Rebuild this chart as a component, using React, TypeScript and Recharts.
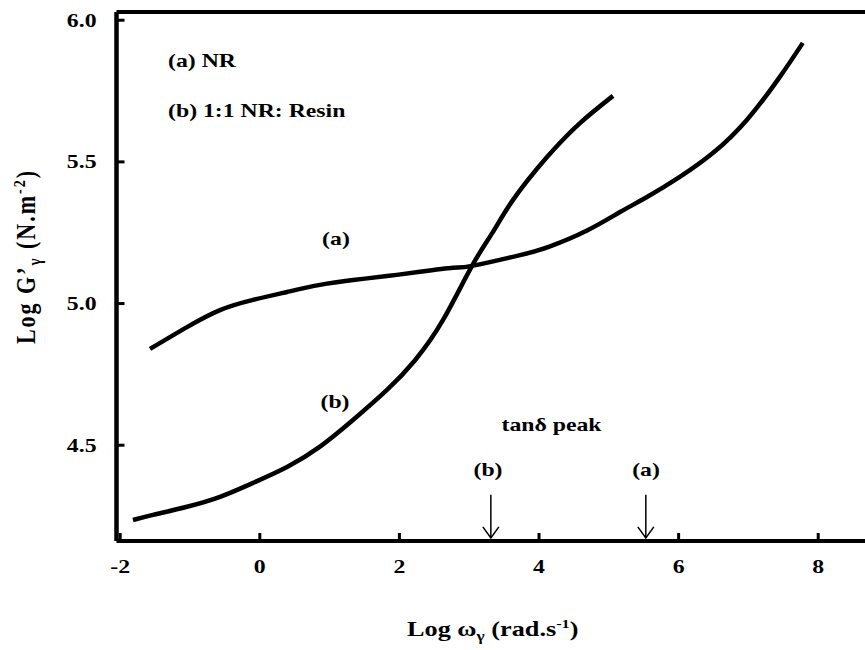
import React from 'react';
import { LineChart, Line, XAxis, YAxis, ReferenceLine, ReferenceDot, Label } from 'recharts';

// Curve (a) NR
const logOmegaA = [-1.573, -1.043, -0.570, -0.097, 0.390, 0.862, 1.335, 1.822, 2.295, 2.768, 3.040, 3.728, 4.158, 4.688, 5.160, 5.547, 6.017, 6.490, 6.977, 7.450, 7.779];
const logGA = [4.840, 4.917, 4.977, 5.013, 5.041, 5.066, 5.083, 5.097, 5.112, 5.126, 5.133, 5.171, 5.202, 5.258, 5.323, 5.376, 5.447, 5.531, 5.648, 5.800, 5.920];

// Curve (b) 1:1 NR: Resin
const logOmegaB = [-1.817, -1.530, -1.043, -0.570, -0.097, 0.390, 0.862, 1.335, 1.822, 2.224, 2.625, 3.040, 3.341, 3.628, 4.115, 4.587, 5.060];
const logGB = [4.236, 4.254, 4.283, 4.318, 4.367, 4.423, 4.495, 4.589, 4.695, 4.800, 4.942, 5.133, 5.253, 5.366, 5.517, 5.637, 5.733];

const xTicks = [-2, 0, 2, 4, 6, 8];
const yTicks = [4.5, 5.0, 5.5, 6.0];
const xDomain = [-2.053, 8.67];
const yDomain = [4.162, 6.029];

// tan delta peak arrows: (b), (a)
const peakX = [3.31, 5.53];
const arrowTopY = 4.325;
const arrowTipY = 4.173;

const noteText = ['(a) NR', '(b) 1:1 NR: Resin', '(a)', '(b)', 'tanδ peak', '(b)', '(a)'];
const noteX = [-1.315, -1.315, 1.091, 1.077, 4.179, 3.269, 5.533];
const noteY = [5.835, 5.658, 5.205, 4.632, 4.550, 4.392, 4.392];
const noteAnchor = ['start', 'start', 'middle', 'middle', 'middle', 'middle', 'middle'];

const dataA = logOmegaA.map((x, i) => ({ x, y: logGA[i] }));
const dataB = logOmegaB.map((x, i) => ({ x, y: logGB[i] }));

const FONT = '"Liberation Serif", "Times New Roman", serif';
const SX = 1.25;

function SText(props: any) {
  const { x, y, anchor = 'middle', size = 19, rotate = false, letterSpacing, children } = props;
  const t = rotate
    ? `translate(${x},${y}) scale(${SX},1) rotate(-90)`
    : `translate(${x},${y}) scale(${SX},1)`;
  return (
    <text
      transform={t}
      x={0}
      y={0}
      textAnchor={anchor}
      fontFamily={FONT}
      fontWeight="bold"
      fontSize={size}
      fill="#000"
      letterSpacing={letterSpacing}
    >
      {children}
    </text>
  );
}

const XTick = (props: any) => {
  const { x, y, payload } = props;
  return (
    <g>
      <line x1={x} x2={x} y1={y} y2={y - 8} stroke="#000" strokeWidth={3} />
      <SText x={x} y={y + 32}>{String(payload.value)}</SText>
    </g>
  );
};

const YTick = (props: any) => {
  const { x, y, payload } = props;
  return (
    <g>
      <line x1={x} x2={x + 8} y1={y} y2={y} stroke="#000" strokeWidth={3} />
      <SText x={x - 20} y={y + 6.5} anchor="end">{Number(payload.value).toFixed(1)}</SText>
    </g>
  );
};

const XTitle = (props: any) => {
  const vb = props.viewBox || { x: 116, y: 541, width: 749 };
  return (
    <SText x={vb.x + vb.width / 2 + 2} y={vb.y + 95} size={21}>
      {'Log ω'}
      <tspan fontSize={14} dy={5}>γ</tspan>
      <tspan dy={-5}>{' (rad.s'}</tspan>
      <tspan fontSize={13} dy={-8}>-1</tspan>
      <tspan dy={8}>)</tspan>
    </SText>
  );
};

const YTitle = (props: any) => {
  const vb = props.viewBox || { x: 0, y: 12, width: 116, height: 529 };
  return (
    <SText x={vb.x + 35} y={vb.y + vb.height / 2 - 20} size={22} rotate letterSpacing={2}>
      {'Log G’'}
      <tspan fontSize={15} dy={5}>γ</tspan>
      <tspan dy={-5}>{' (N.m'}</tspan>
      <tspan fontSize={14} dy={-8}>-2</tspan>
      <tspan dy={8}>)</tspan>
    </SText>
  );
};

const ArrowShape = (props: any) => {
  const { x1, y1, x2, y2 } = props;
  const tipY = Math.max(y1, y2);
  const topY = Math.min(y1, y2);
  const x = x2;
  return (
    <g>
      <line x1={x} x2={x} y1={topY} y2={tipY} stroke="#000" strokeWidth={1.5} />
      <polyline
        points={`${x - 8},${tipY - 11} ${x},${tipY} ${x + 8},${tipY - 11}`}
        fill="none"
        stroke="#000"
        strokeWidth={1.5}
      />
    </g>
  );
};

const makeNote = (i: number) => (p: any) => {
  const vb = p.viewBox || { x: 0, y: 0 };
  return (
    <SText x={vb.x} y={vb.y} anchor={noteAnchor[i]}>{noteText[i]}</SText>
  );
};

export default function App() {
  return (
    <div style={{ position: 'absolute', left: 0, top: 0, width: 865, height: 650, background: '#fff' }}>
      <LineChart width={865} height={650} margin={{ top: 12, right: 0, bottom: 0, left: 0 }}>
        <XAxis
          type="number"
          dataKey="x"
          domain={xDomain}
          ticks={xTicks}
          interval={0}
          allowDataOverflow
          height={109}
          axisLine={{ stroke: '#000', strokeWidth: 4 }}
          tickLine={false}
          tickSize={0}
          tickMargin={0}
          tick={<XTick />}
        >
          <Label content={XTitle} />
        </XAxis>
        <YAxis
          type="number"
          domain={yDomain}
          ticks={yTicks}
          interval={0}
          allowDataOverflow
          width={116.5}
          axisLine={{ stroke: '#000', strokeWidth: 4.5 }}
          tickLine={false}
          tickSize={0}
          tickMargin={0}
          tick={<YTick />}
        >
          <Label content={YTitle} />
        </YAxis>
        <ReferenceLine y={yDomain[1]} stroke="#000" strokeWidth={4} />
        <Line
          data={dataA}
          dataKey="y"
          type="natural"
          stroke="#000"
          strokeWidth={4.5}
          dot={false}
          isAnimationActive={false}
        />
        <Line
          data={dataB}
          dataKey="y"
          type="natural"
          stroke="#000"
          strokeWidth={4.5}
          dot={false}
          isAnimationActive={false}
        />
        {peakX.map((px, i) => (
          <ReferenceLine
            key={'arrow' + i}
            segment={[{ x: px, y: arrowTopY }, { x: px, y: arrowTipY }]}
            stroke="#000"
            shape={ArrowShape}
          />
        ))}
        {noteText.map((t, i) => (
          <ReferenceDot
            key={'note' + i}
            x={noteX[i]}
            y={noteY[i]}
            r={0}
            fill="none"
            stroke="none"
            label={makeNote(i)}
          />
        ))}
      </LineChart>
    </div>
  );
}
